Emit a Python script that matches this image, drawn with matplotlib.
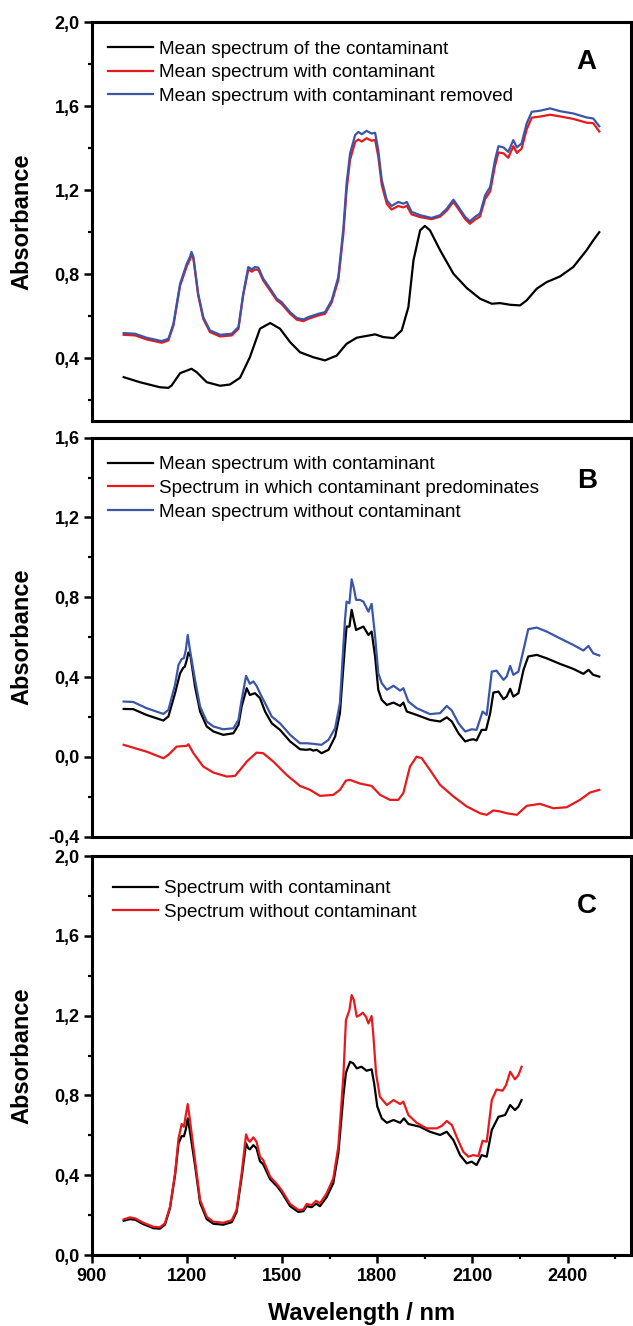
import numpy as np
import matplotlib
matplotlib.use('Agg')
import matplotlib.pyplot as plt
from matplotlib.ticker import MultipleLocator, FuncFormatter

plt.rcParams['font.family'] = ['Liberation Sans', 'DejaVu Sans']

# ---------------- data ----------------
# panel A
wl_a_cont = [1000, 1051, 1114, 1141, 1151, 1178, 1214, 1230, 1262, 1304, 1335, 1367, 1398, 1430, 1462, 1493,
             1525, 1556, 1598, 1635, 1672, 1703, 1735, 1793, 1819, 1851, 1877, 1898, 1914, 1935, 1950, 1966,
             1998, 2040, 2082, 2124, 2161, 2187, 2219, 2250, 2271, 2303, 2334, 2376, 2418, 2460, 2481, 2500]
abs_a_cont = [0.309, 0.285, 0.261, 0.258, 0.269, 0.328, 0.349, 0.333, 0.285, 0.268, 0.274, 0.306, 0.404, 0.540,
              0.567, 0.540, 0.476, 0.428, 0.404, 0.389, 0.412, 0.468, 0.497, 0.513, 0.500, 0.495, 0.532, 0.643,
              0.866, 1.009, 1.030, 1.009, 0.914, 0.802, 0.734, 0.683, 0.659, 0.662, 0.654, 0.651, 0.675, 0.731,
              0.762, 0.789, 0.834, 0.914, 0.961, 1.000]

wl_a = [1000, 1036, 1072, 1120, 1141, 1157, 1178, 1199, 1209, 1214, 1220, 1235, 1251, 1272, 1304, 1341,
        1362, 1377, 1393, 1404, 1414, 1425, 1440, 1462, 1483, 1498, 1525, 1546, 1567, 1582, 1598, 1614,
        1635, 1656, 1677, 1693, 1703, 1714, 1730, 1740, 1751, 1766, 1782, 1793, 1803, 1814, 1830, 1845,
        1866, 1882, 1893, 1908, 1935, 1971, 1998, 2019, 2040, 2056, 2077, 2092, 2108, 2124, 2140, 2156,
        2171, 2182, 2198, 2213, 2229, 2240, 2255, 2271, 2287, 2313, 2345, 2376, 2418, 2460, 2481, 2500]
abs_a_removed = [0.519, 0.516, 0.497, 0.481, 0.492, 0.564, 0.755, 0.850, 0.882, 0.906, 0.882, 0.707, 0.595,
                 0.532, 0.511, 0.516, 0.548, 0.707, 0.834, 0.823, 0.834, 0.831, 0.779, 0.731, 0.683, 0.667,
                 0.619, 0.591, 0.584, 0.595, 0.603, 0.611, 0.619, 0.675, 0.787, 1.020, 1.232, 1.375, 1.463,
                 1.478, 1.467, 1.483, 1.470, 1.474, 1.391, 1.248, 1.152, 1.125, 1.144, 1.136, 1.144, 1.097,
                 1.081, 1.068, 1.081, 1.112, 1.155, 1.120, 1.073, 1.052, 1.073, 1.089, 1.176, 1.216, 1.343,
                 1.410, 1.404, 1.383, 1.439, 1.404, 1.423, 1.518, 1.574, 1.579, 1.590, 1.577, 1.566, 1.547,
                 1.542, 1.505]
abs_a_with = [0.511, 0.508, 0.489, 0.473, 0.484, 0.556, 0.745, 0.838, 0.870, 0.894, 0.872, 0.699, 0.587,
              0.524, 0.503, 0.508, 0.540, 0.699, 0.822, 0.812, 0.822, 0.820, 0.770, 0.722, 0.675, 0.658,
              0.611, 0.583, 0.576, 0.587, 0.595, 0.603, 0.611, 0.665, 0.772, 0.995, 1.200, 1.345, 1.430,
              1.442, 1.432, 1.448, 1.436, 1.440, 1.360, 1.225, 1.135, 1.108, 1.125, 1.118, 1.126, 1.085,
              1.072, 1.062, 1.074, 1.103, 1.145, 1.110, 1.063, 1.040, 1.060, 1.075, 1.158, 1.195, 1.316,
              1.380, 1.376, 1.355, 1.410, 1.378, 1.398, 1.490, 1.546, 1.551, 1.560, 1.552, 1.540, 1.522,
              1.520, 1.480]

# panel B
wl_b_with = [1000, 1030, 1072, 1125, 1141, 1162, 1178, 1188, 1193, 1199, 1204, 1211, 1225, 1241, 1262, 1283,
             1314, 1346, 1362, 1372, 1388, 1398, 1414, 1430, 1446, 1467, 1493, 1525, 1556, 1577, 1588, 1598,
             1609, 1624, 1646, 1667, 1682, 1698, 1703, 1712, 1719, 1726, 1733, 1745, 1756, 1772, 1782, 1793,
             1803, 1814, 1830, 1851, 1872, 1882, 1893, 1924, 1966, 1998, 2019, 2035, 2056, 2077, 2092, 2103,
             2113, 2129, 2143, 2156, 2166, 2182, 2198, 2208, 2219, 2229, 2245, 2261, 2276, 2303, 2334, 2376,
             2418, 2450, 2466, 2481, 2500]
abs_b_with = [0.240, 0.239, 0.210, 0.182, 0.202, 0.319, 0.419, 0.447, 0.452, 0.486, 0.523, 0.503, 0.352,
              0.227, 0.152, 0.127, 0.110, 0.118, 0.160, 0.252, 0.344, 0.310, 0.319, 0.294, 0.227, 0.168,
              0.135, 0.077, 0.038, 0.035, 0.038, 0.031, 0.035, 0.018, 0.035, 0.102, 0.219, 0.560, 0.653,
              0.653, 0.737, 0.686, 0.636, 0.645, 0.653, 0.611, 0.628, 0.503, 0.336, 0.285, 0.260, 0.272,
              0.255, 0.272, 0.227, 0.210, 0.185, 0.177, 0.198, 0.177, 0.118, 0.077, 0.085, 0.088, 0.082,
              0.135, 0.135, 0.219, 0.322, 0.327, 0.289, 0.302, 0.341, 0.302, 0.319, 0.436, 0.503, 0.511,
              0.494, 0.466, 0.441, 0.416, 0.436, 0.411, 0.402]

wl_b_pred = [1000, 1072, 1125, 1141, 1167, 1199, 1204, 1220, 1251, 1283, 1325, 1351, 1367, 1388, 1419, 1440,
             1472, 1514, 1556, 1588, 1619, 1661, 1682, 1701, 1714, 1745, 1782, 1809, 1840, 1866, 1882, 1903,
             1924, 1940, 1966, 1998, 2040, 2082, 2124, 2145, 2166, 2187, 2208, 2240, 2271, 2313, 2355, 2397,
             2439, 2471, 2500]
abs_b_pred = [0.060, 0.026, -0.007, 0.010, 0.051, 0.055, 0.063, 0.018, -0.049, -0.079, -0.099, -0.096,
              -0.066, -0.024, 0.021, 0.018, -0.024, -0.091, -0.146, -0.166, -0.196, -0.191, -0.166, -0.119,
              -0.116, -0.134, -0.146, -0.191, -0.216, -0.216, -0.182, -0.049, 0.001, -0.007, -0.066, -0.141,
              -0.199, -0.249, -0.283, -0.291, -0.269, -0.274, -0.283, -0.291, -0.246, -0.236, -0.258, -0.253,
              -0.216, -0.179, -0.166]

wl_b_without = [1000, 1030, 1072, 1125, 1141, 1162, 1173, 1183, 1190, 1196, 1202, 1209, 1225, 1241, 1262,
                1283, 1314, 1346, 1362, 1372, 1386, 1398, 1409, 1419, 1435, 1446, 1467, 1493, 1525, 1556,
                1577, 1598, 1624, 1646, 1667, 1682, 1698, 1703, 1712, 1719, 1726, 1733, 1745, 1756, 1772,
                1782, 1793, 1803, 1814, 1830, 1851, 1872, 1882, 1898, 1924, 1966, 1998, 2019, 2035, 2056,
                2077, 2098, 2113, 2132, 2145, 2161, 2176, 2198, 2208, 2219, 2229, 2245, 2261, 2276, 2303,
                2334, 2376, 2418, 2450, 2466, 2481, 2500]
abs_b_without = [0.277, 0.275, 0.244, 0.215, 0.235, 0.361, 0.461, 0.490, 0.495, 0.536, 0.611, 0.536, 0.386,
                 0.252, 0.177, 0.152, 0.138, 0.143, 0.185, 0.285, 0.406, 0.366, 0.378, 0.356, 0.302, 0.269,
                 0.202, 0.168, 0.110, 0.068, 0.068, 0.065, 0.060, 0.085, 0.144, 0.269, 0.687, 0.778, 0.770,
                 0.890, 0.845, 0.787, 0.787, 0.778, 0.728, 0.767, 0.603, 0.419, 0.369, 0.336, 0.356, 0.332,
                 0.344, 0.277, 0.244, 0.214, 0.219, 0.255, 0.232, 0.168, 0.127, 0.138, 0.135, 0.227, 0.210,
                 0.427, 0.432, 0.386, 0.402, 0.456, 0.411, 0.427, 0.536, 0.640, 0.648, 0.628, 0.594, 0.561,
                 0.533, 0.556, 0.519, 0.508]

# panel C
wl_c_without = [1000, 1020, 1036, 1062, 1093, 1114, 1130, 1146, 1162, 1173, 1183, 1190, 1196, 1202, 1209,
                1225, 1241, 1262, 1283, 1314, 1341, 1356, 1372, 1386, 1393, 1398, 1409, 1419, 1430, 1440,
                1462, 1483, 1498, 1525, 1551, 1567, 1577, 1593, 1607, 1619, 1640, 1661, 1677, 1693, 1701,
                1712, 1719, 1726, 1735, 1745, 1754, 1764, 1772, 1782, 1787, 1796, 1808, 1830, 1851, 1872,
                1882, 1898, 1924, 1956, 1987, 2003, 2019, 2035, 2050, 2071, 2087, 2103, 2119, 2132, 2145,
                2161, 2176, 2195, 2206, 2219, 2234, 2245, 2255]
abs_c_without = [0.179, 0.189, 0.184, 0.162, 0.142, 0.139, 0.159, 0.242, 0.409, 0.585, 0.657, 0.643, 0.702,
                 0.757, 0.677, 0.476, 0.276, 0.192, 0.167, 0.162, 0.175, 0.226, 0.409, 0.605, 0.576, 0.568,
                 0.590, 0.568, 0.493, 0.476, 0.393, 0.356, 0.326, 0.256, 0.226, 0.229, 0.256, 0.251, 0.272,
                 0.259, 0.309, 0.384, 0.543, 0.900, 1.178, 1.228, 1.303, 1.278, 1.195, 1.203, 1.215, 1.195,
                 1.161, 1.198, 1.111, 0.911, 0.794, 0.752, 0.777, 0.757, 0.769, 0.702, 0.663, 0.635, 0.635,
                 0.647, 0.672, 0.652, 0.593, 0.518, 0.493, 0.501, 0.496, 0.573, 0.568, 0.777, 0.830, 0.824,
                 0.852, 0.919, 0.881, 0.902, 0.944]

wl_c_with = [1000, 1020, 1036, 1062, 1093, 1114, 1130, 1146, 1162, 1173, 1183, 1190, 1196, 1202, 1209, 1225,
             1241, 1262, 1283, 1314, 1341, 1356, 1372, 1386, 1393, 1398, 1409, 1419, 1430, 1440, 1462, 1483,
             1498, 1525, 1551, 1567, 1577, 1593, 1607, 1619, 1640, 1661, 1677, 1693, 1701, 1714, 1724, 1735,
             1750, 1766, 1782, 1790, 1800, 1814, 1830, 1851, 1872, 1884, 1898, 1935, 1966, 1998, 2019, 2040,
             2061, 2082, 2098, 2113, 2129, 2145, 2161, 2182, 2203, 2219, 2234, 2245, 2255]
abs_c_with = [0.172, 0.180, 0.177, 0.155, 0.135, 0.132, 0.152, 0.235, 0.400, 0.560, 0.597, 0.595, 0.630,
              0.685, 0.620, 0.450, 0.262, 0.180, 0.157, 0.152, 0.165, 0.215, 0.390, 0.560, 0.535, 0.530,
              0.551, 0.535, 0.470, 0.455, 0.380, 0.346, 0.315, 0.245, 0.216, 0.220, 0.245, 0.240, 0.258,
              0.245, 0.290, 0.360, 0.510, 0.800, 0.914, 0.969, 0.961, 0.936, 0.944, 0.924, 0.931, 0.860,
              0.744, 0.685, 0.663, 0.677, 0.663, 0.685, 0.657, 0.643, 0.618, 0.602, 0.618, 0.576, 0.501,
              0.460, 0.468, 0.451, 0.501, 0.493, 0.627, 0.693, 0.702, 0.752, 0.727, 0.744, 0.777]

RED = '#e8191c'
BLUE = '#3a56a8'

fig = plt.figure(figsize=(6.33, 13.26), dpi=100)
ax_a = fig.add_axes([0.1453, 0.6825, 0.8515, 0.3006])
ax_b = fig.add_axes([0.1453, 0.3691, 0.8515, 0.3008])
ax_c = fig.add_axes([0.1453, 0.0535, 0.8515, 0.3009])

comma = FuncFormatter(lambda v, p: f'{v:.1f}'.replace('.', ','))

ax_a.plot(wl_a_cont, abs_a_cont, color='black', lw=1.6, label='Mean spectrum of the contaminant')
ax_a.plot(wl_a, abs_a_with, color=RED, lw=1.6, label='Mean spectrum with contaminant')
ax_a.plot(wl_a, abs_a_removed, color=BLUE, lw=1.6, label='Mean spectrum with contaminant removed')

ax_b.plot(wl_b_with, abs_b_with, color='black', lw=1.6, label='Mean spectrum with contaminant')
ax_b.plot(wl_b_pred, abs_b_pred, color=RED, lw=1.6, label='Spectrum in which contaminant predominates')
ax_b.plot(wl_b_without, abs_b_without, color=BLUE, lw=1.6, label='Mean spectrum without contaminant')

ax_c.plot(wl_c_with, abs_c_with, color='black', lw=1.6, label='Spectrum with contaminant')
ax_c.plot(wl_c_without, abs_c_without, color=RED, lw=1.6, label='Spectrum without contaminant')

limits = {ax_a: (0.1, 2.0), ax_b: (-0.4, 1.6), ax_c: (0.0, 2.0)}
letters = {ax_a: ('A', 0.90), ax_b: ('B', 0.892), ax_c: ('C', 0.876)}
leg_top = {ax_a: 0.955, ax_b: 0.954, ax_c: 0.940}

for ax in (ax_a, ax_b, ax_c):
    ax.set_xlim(900, 2600)
    ax.set_ylim(*limits[ax])
    ax.yaxis.set_major_locator(MultipleLocator(0.4))
    ax.yaxis.set_minor_locator(MultipleLocator(0.2))
    ax.yaxis.set_major_formatter(comma)
    ax.xaxis.set_major_locator(MultipleLocator(300))
    ax.xaxis.set_minor_locator(MultipleLocator(150))
    for s in ax.spines.values():
        s.set_linewidth(2.2)
    ax.tick_params(which='major', direction='out', length=5.5, width=1.8, labelsize=13, right=False, top=False)
    ax.tick_params(which='minor', direction='out', length=3, width=1.6, right=False, top=False)
    for lab in ax.get_yticklabels():
        lab.set_fontweight('bold')
    ax.set_ylabel('Absorbance', fontsize=17, fontweight='bold')
    ax.yaxis.set_label_coords(-0.108, 0.5)
    txt, ty = letters[ax]
    ax.text(0.918, ty, txt, transform=ax.transAxes, fontsize=20, fontweight='bold',
            ha='center', va='center')
    x0 = 0.030 if ax is not ax_c else 0.039
    ax.legend(loc='upper left', bbox_to_anchor=(x0, leg_top[ax]), frameon=False, fontsize=13.6,
              handlelength=2.4, handletextpad=0.28, labelspacing=0.34, borderpad=0, borderaxespad=0)

for ax in (ax_a, ax_b):
    ax.tick_params(axis='x', which='both', bottom=False, labelbottom=False)

for lab in ax_c.get_xticklabels():
    lab.set_fontweight('bold')
ax_c.set_xlabel('Wavelength / nm', fontsize=17, fontweight='bold')
ax_c.xaxis.set_label_coords(0.5, -0.118)

plt.savefig('out.png', dpi=100)
